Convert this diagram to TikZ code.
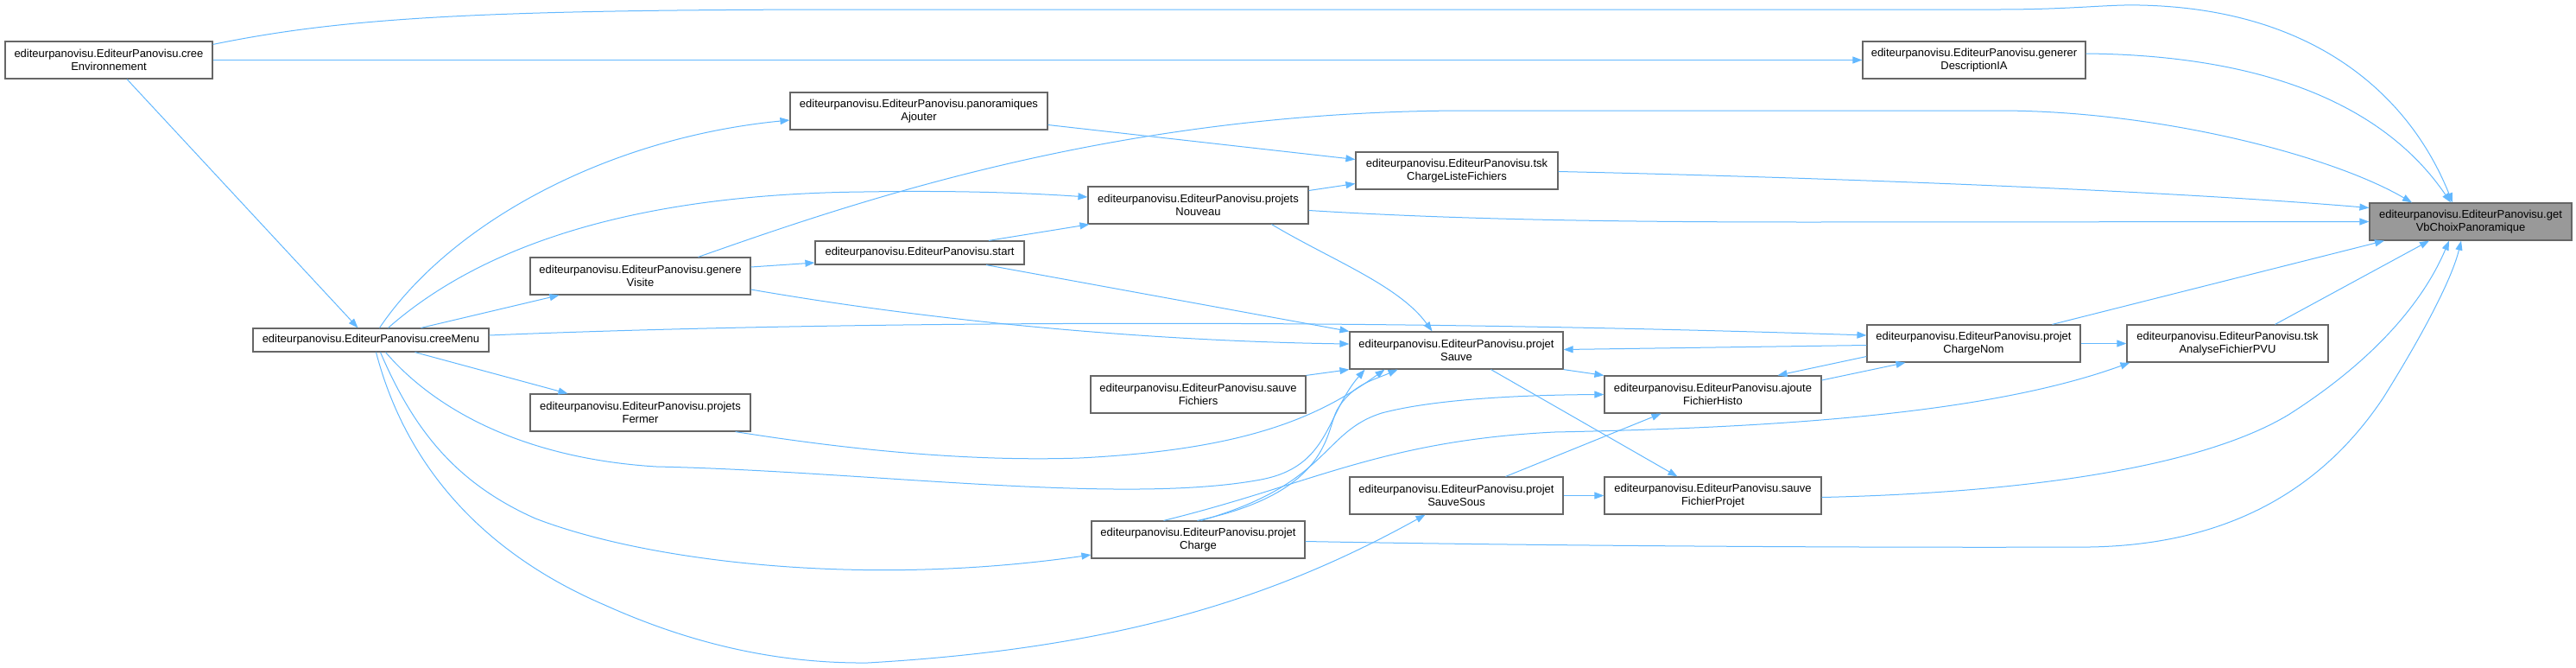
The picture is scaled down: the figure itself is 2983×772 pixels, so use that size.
\documentclass[tikz,border=0pt]{standalone}
\usepackage{fontspec}
\setmainfont{Liberation Sans}
\usepackage{xcolor}
\usetikzlibrary{arrows.meta, calc}
\definecolor{dxedge}{HTML}{63B8FF}
\definecolor{dxframe}{HTML}{666666}
\definecolor{dxfocus}{HTML}{999999}

\begin{document}
\begin{tikzpicture}[x=1pt, y=-1pt,
  fn/.style={rectangle, draw=dxframe, fill=white, line width=1.2pt, inner sep=0pt,
             minimum height=43pt, align=center, font=\fontsize{13}{15.6}\selectfont},
  focus/.style={fn, fill=dxfocus},
  arr/.style={-{Triangle[length=11pt, width=8pt]}, line width=1pt, dxedge}]
  \useasboundingbox (0,0) rectangle (2983,772);
  \node[fn, minimum width=240pt] (creeEnv) at (126,69.5) {editeurpanovisu.EditeurPanovisu.cree\\Environnement};
  \node[fn, minimum width=273pt, minimum height=27pt] (creeMenu) at (429.5,393.5) {editeurpanovisu.EditeurPanovisu.creeMenu};
  \node[fn, minimum width=255pt] (genereVisite) at (741.5,319.5) {editeurpanovisu.EditeurPanovisu.genere\\Visite};
  \node[fn, minimum width=255pt] (projetsFermer) at (741.5,477.5) {editeurpanovisu.EditeurPanovisu.projets\\Fermer};
  \node[fn, minimum width=298pt] (panoAjouter) at (1064,128.5) {editeurpanovisu.EditeurPanovisu.panoramiques\\Ajouter};
  \node[fn, minimum width=234pt] (tskListe) at (1687,197.5) {editeurpanovisu.EditeurPanovisu.tsk\\ChargeListeFichiers};
  \node[fn, minimum width=255pt] (projetsNouveau) at (1387.5,237.5) {editeurpanovisu.EditeurPanovisu.projets\\Nouveau};
  \node[fn, minimum width=242pt, minimum height=27pt] (start) at (1065,292.5) {editeurpanovisu.EditeurPanovisu.start};
  \node[fn, minimum width=247pt] (projetSauve) at (1686.5,405.5) {editeurpanovisu.EditeurPanovisu.projet\\Sauve};
  \node[fn, minimum width=249pt] (sauveFichiers) at (1387.5,456.5) {editeurpanovisu.EditeurPanovisu.sauve\\Fichiers};
  \node[fn, minimum width=247pt] (projetCharge) at (1387.5,624.5) {editeurpanovisu.EditeurPanovisu.projet\\Charge};
  \node[fn, minimum width=247pt] (projetSauveSous) at (1686.5,573.5) {editeurpanovisu.EditeurPanovisu.projet\\SauveSous};
  \node[fn, minimum width=251pt] (ajouteHisto) at (1983.5,456.5) {editeurpanovisu.EditeurPanovisu.ajoute\\FichierHisto};
  \node[fn, minimum width=251pt] (sauveProjet) at (1983.5,573.5) {editeurpanovisu.EditeurPanovisu.sauve\\FichierProjet};
  \node[fn, minimum width=258pt] (genererIA) at (2286,69.5) {editeurpanovisu.EditeurPanovisu.generer\\DescriptionIA};
  \node[fn, minimum width=247pt] (chargeNom) at (2285.5,397.5) {editeurpanovisu.EditeurPanovisu.projet\\ChargeNom};
  \node[fn, minimum width=233pt] (tskAnalyse) at (2579.5,397.5) {editeurpanovisu.EditeurPanovisu.tsk\\AnalyseFichierPVU};
  \node[focus, minimum width=234pt] (getVb) at (2861,256.5) {editeurpanovisu.EditeurPanovisu.get\\VbChoixPanoramique};

  \draw[arr] ([yshift=-4pt]creeEnv.north east) .. controls (400,20) and (560,11) .. (1000,11) -- (2313,11)
     .. controls (2400,11) and (2440,5) .. (2478,6) .. controls (2680,10) and (2790,110) .. ([xshift=-21pt]getVb.north);
  \draw[arr] (creeEnv.east) -- (genererIA.west);
  \draw[arr] ([yshift=7.5pt]genererIA.east) .. controls (2620,64) and (2760,120) .. ([xshift=-23pt]getVb.north);
  \draw[arr] ([xshift=21pt]creeEnv.south) -- ([xshift=-15pt]creeMenu.north);
  \draw[arr] ([xshift=10pt]creeMenu.north) .. controls (520,260) and (700,160) .. ([yshift=-10.5pt]panoAjouter.west);
  \draw[arr] ([xshift=20pt]creeMenu.north) .. controls (540,300) and (700,225) .. (1000,222)
     .. controls (1120,220) and (1200,224) .. ([yshift=9.5pt]projetsNouveau.west);
  \draw[arr] ([xshift=58pt]creeMenu.north) -- ([xshift=-94pt]genereVisite.south);
  \draw[arr] ([xshift=51pt]creeMenu.south) -- ([xshift=-84pt]projetsFermer.north);
  \draw[arr] ([yshift=5.5pt]creeMenu.east) .. controls (900,374) and (1500,366) .. ([yshift=9.5pt]chargeNom.west);
  \draw[arr] ([xshift=17pt]creeMenu.south) .. controls (500,470) and (600,530) .. (760,540)
     .. controls (1000,545) and (1300,585) .. (1460,555) .. controls (1540,540) and (1535,480) .. ([xshift=-106pt]projetSauve.south);
  \draw[arr] ([xshift=11pt]creeMenu.south) .. controls (480,500) and (530,560) .. (620,600)
     .. controls (750,650) and (1000,680) .. ([yshift=-17.5pt]projetCharge.west);
  \draw[arr] ([xshift=6pt]creeMenu.south) .. controls (470,540) and (560,640) .. (700,700)
     .. controls (800,745) and (900,768) .. (1005,767) .. controls (1300,750) and (1480,690) .. ([xshift=-36pt]projetSauveSous.south);

  \draw[arr] ([yshift=10.5pt]genereVisite.east) -- ([yshift=-11.5pt]start.west);
  \draw[arr] ([yshift=-15.5pt]genereVisite.east) .. controls (1100,375) and (1350,395) .. ([yshift=7.5pt]projetSauve.west);
  \draw[arr] ([xshift=67pt]genereVisite.north) .. controls (1000,230) and (1300,128) .. (1700,128) -- (2314,128)
     .. controls (2500,128) and (2700,180) .. ([xshift=-68pt]getVb.north);
  \draw[arr] ([xshift=80pt]start.north) -- ([xshift=2pt]projetsNouveau.south west);
  \draw[arr] ([xshift=77pt]start.south) -- (projetSauve.north west);
  \draw[arr] ([yshift=-16pt]panoAjouter.east) -- ([yshift=13pt]tskListe.west);
  \draw[arr] ([yshift=17pt]projetsNouveau.east) -- ([yshift=-15pt]tskListe.west);
  \draw[arr] ([xshift=85pt]projetsNouveau.south) .. controls (1540,300) and (1620,330) .. ([xshift=-28pt]projetSauve.north);
  \draw[arr] ([yshift=-6pt]projetsNouveau.east) .. controls (1700,255) and (1900,257) .. (2100,257) -- (getVb.west);
  \draw[arr] ([yshift=-1pt]tskListe.east) .. controls (2100,205) and (2500,220) .. ([yshift=16pt]getVb.west);
  \draw[arr] (sauveFichiers.north east) -- (projetSauve.south west);
  \draw[arr] ([xshift=-18pt]projetsFermer.south east) .. controls (950,515) and (1100,535) .. (1250,530)
     .. controls (1450,520) and (1530,480) .. ([xshift=-83pt]projetSauve.south);

  \draw[arr] ([xshift=-1pt]projetCharge.north) .. controls (1540,570) and (1535,500) .. (1548,475)
     .. controls (1565,445) and (1590,440) .. ([xshift=-68pt]projetSauve.south);
  \draw[arr] ([xshift=3pt]projetCharge.north) .. controls (1540,560) and (1530,500) .. (1600,478)
     .. controls (1660,462) and (1760,457) .. (ajouteHisto.west);
  \draw[arr] ([xshift=-40pt]projetCharge.north) .. controls (1520,560) and (1600,510) .. (1800,500)
     .. controls (2050,495) and (2300,480) .. ([xshift=4pt]tskAnalyse.south west);
  \draw[arr] ([yshift=-2pt]projetCharge.east) .. controls (1800,632) and (2200,634) .. (2420,633)
     .. controls (2600,630) and (2700,550) .. (2760,460) .. controls (2810,380) and (2840,320) .. ([xshift=-11pt]getVb.south);

  \draw[arr] (projetSauve.south east) -- (ajouteHisto.north west);
  \draw[arr] ([xshift=40pt]projetSauve.south) -- ([xshift=-41pt]sauveProjet.north);
  \draw[arr] ([yshift=-2pt]chargeNom.west) -- ([yshift=1pt]projetSauve.east);
  \draw[arr] ([yshift=-15pt]chargeNom.west) -- ([xshift=75pt]ajouteHisto.north);
  \draw[arr] ([yshift=16.5pt]ajouteHisto.east) -- ([xshift=-79pt]chargeNom.south);
  \draw[arr] (chargeNom.east) -- (tskAnalyse.west);
  \draw[arr] ([xshift=91pt]chargeNom.north) -- ([xshift=-100pt]getVb.south);
  \draw[arr] ([xshift=55pt]tskAnalyse.north) -- ([xshift=-48pt]getVb.south);
  \draw[arr] ([xshift=57pt]projetSauveSous.north) -- ([xshift=-60pt]ajouteHisto.south);
  \draw[arr] (projetSauveSous.east) -- (sauveProjet.west);
  \draw[arr] ([yshift=-2pt]sauveProjet.east) .. controls (2350,570) and (2550,540) .. (2650,480)
     .. controls (2760,410) and (2810,340) .. ([xshift=-25pt]getVb.south);
\end{tikzpicture}
\end{document}
